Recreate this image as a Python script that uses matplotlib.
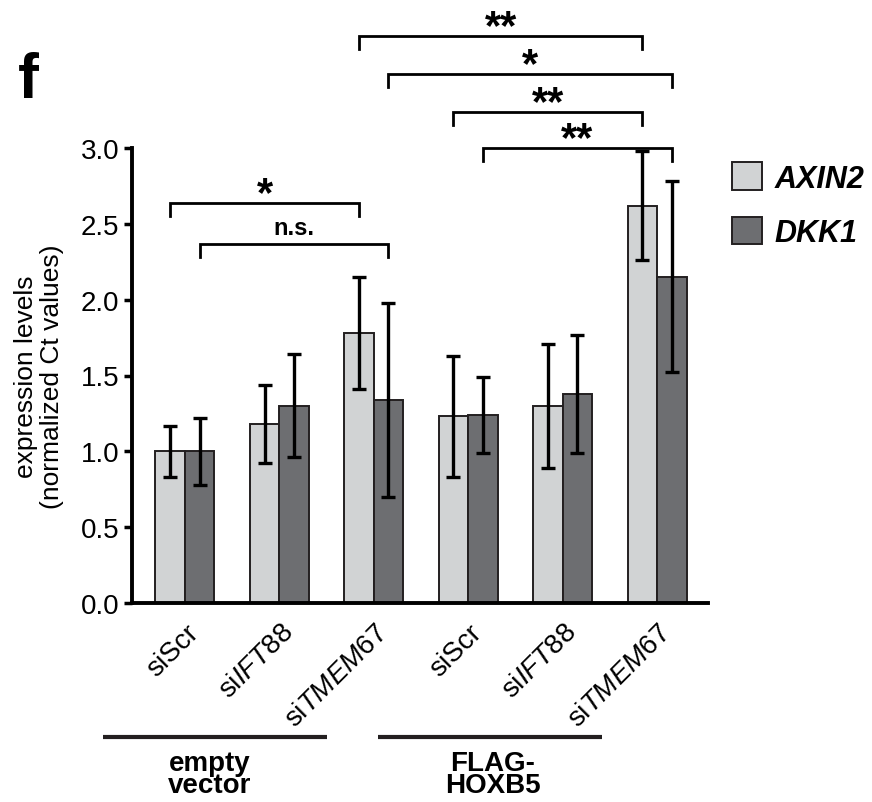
import numpy as np
import matplotlib
matplotlib.use("Agg")
import matplotlib.pyplot as plt
import matplotlib.transforms as mtransforms

plt.rcParams['font.family'] = ['Liberation Sans', 'DejaVu Sans']
plt.rcParams['mathtext.fontset'] = 'custom'
plt.rcParams['mathtext.rm'] = 'Liberation Sans'
plt.rcParams['mathtext.it'] = 'Liberation Sans:italic'

# data
conditions = ['siScr', 'si$\\it{IFT88}$', 'si$\\it{TMEM67}$',
              'siScr', 'si$\\it{IFT88}$', 'si$\\it{TMEM67}$']
axin2 = [1.00, 1.18, 1.78, 1.23, 1.30, 2.62]
axin2_err = [0.17, 0.26, 0.37, 0.40, 0.41, 0.36]
dkk1 = [1.00, 1.30, 1.34, 1.24, 1.38, 2.15]
dkk1_err = [0.22, 0.34, 0.64, 0.25, 0.39, 0.63]

# comparisons: (group a, group b, series 0=AXIN2 1=DKK1, height, label)
comparisons = [
    (2, 5, 0, 3.74, '**'),
    (2, 5, 1, 3.49, '*'),
    (3, 5, 0, 3.24, '**'),
    (3, 5, 1, 3.00, '**'),
    (0, 2, 0, 2.64, '*'),
    (0, 2, 1, 2.37, 'n.s.'),
]

groups = ['empty\nvector', 'FLAG-\nHOXB5']
group_spans = [(-0.87, 1.51), (2.04, 4.42)]
group_text_x = [0.26, 3.26]

light = '#d1d3d4'
dark = '#6d6e71'
edge = '#231f20'

fig = plt.figure(figsize=(8.72, 8.03), dpi=100)
ax = fig.add_axes([132/872, 1-604/803, (708-132)/872, (604-149)/803])

x = np.arange(len(conditions))
w = 0.3125
ekw = dict(elinewidth=2.4, capthick=2.4, capsize=4.7, ecolor='black')
ax.bar(x - w/2, axin2, w, yerr=axin2_err, color=light, edgecolor=edge,
       linewidth=1.4, error_kw=ekw, label='AXIN2', zorder=2)
ax.bar(x + w/2, dkk1, w, yerr=dkk1_err, color=dark, edgecolor=edge,
       linewidth=1.4, error_kw=ekw, label='DKK1', zorder=2)

ax.set_xlim(-0.56, 5.54)
ax.set_ylim(0, 3.0)
ax.set_yticks([0, 0.5, 1.0, 1.5, 2.0, 2.5, 3.0])
ax.set_yticklabels(['0.0', '0.5', '1.0', '1.5', '2.0', '2.5', '3.0'])
ax.tick_params(axis='y', length=6, width=2.5, labelsize=20, pad=3)
ax.tick_params(axis='x', length=0, labelsize=20, pad=18)
ax.set_xticks(x)
ax.set_xticklabels(conditions, rotation=45, ha='right', va='center',
                   rotation_mode='anchor')
offset = mtransforms.ScaledTranslation(10/100, 0, fig.dpi_scale_trans)
for lab in ax.get_xticklabels():
    lab.set_transform(lab.get_transform() + offset)

for s in ['top', 'right']:
    ax.spines[s].set_visible(False)
ax.spines['left'].set_linewidth(2.8)
ax.spines['bottom'].set_linewidth(2.8)

ax.set_ylabel('expression levels\n(normalized Ct values)', fontsize=19,
              linespacing=1.1)
ax.yaxis.set_label_coords(-0.118, 0.5)

# significance brackets
drop = 0.086
for ga, gb, s, h, lab in comparisons:
    off = -w/2 if s == 0 else w/2
    xa, xb = ga + off, gb + off
    ax.plot([xa, xa, xb, xb], [h - drop, h, h, h - drop], color='black',
            lw=2.0, clip_on=False, solid_joinstyle='miter')
    if lab == 'n.s.':
        ax.text((xa + xb)/2, h + 0.06, lab, ha='center', va='baseline',
                fontsize=17, fontweight='bold')
    else:
        ax.text((xa + xb)/2, h - 0.015, lab, ha='center', va='baseline',
                fontsize=30, fontweight='bold')

# group annotations below the axis
trans = mtransforms.blended_transform_factory(ax.transData, ax.transAxes)
for (a, b), tx, g in zip(group_spans, group_text_x, groups):
    ax.plot([a, b], [-0.2945, -0.2945], color=edge, lw=3.0,
            transform=trans, clip_on=False, solid_capstyle='butt')
    ax.text(tx, -0.322, g, transform=trans, ha='center', va='top',
            fontsize=20, fontweight='bold', linespacing=0.8)

leg = ax.legend(loc='upper left', bbox_to_anchor=(1.02, 0.995), frameon=False,
                prop={'size': 22, 'style': 'italic', 'weight': 'bold'},
                handlelength=1.0, handleheight=1.0,
                handletextpad=0.4, labelspacing=0.75, borderaxespad=0)

fig.text(18/872, 1-98/803, 'f', fontsize=45, fontweight='bold', va='baseline')

fig.savefig('out.png', dpi=100)
